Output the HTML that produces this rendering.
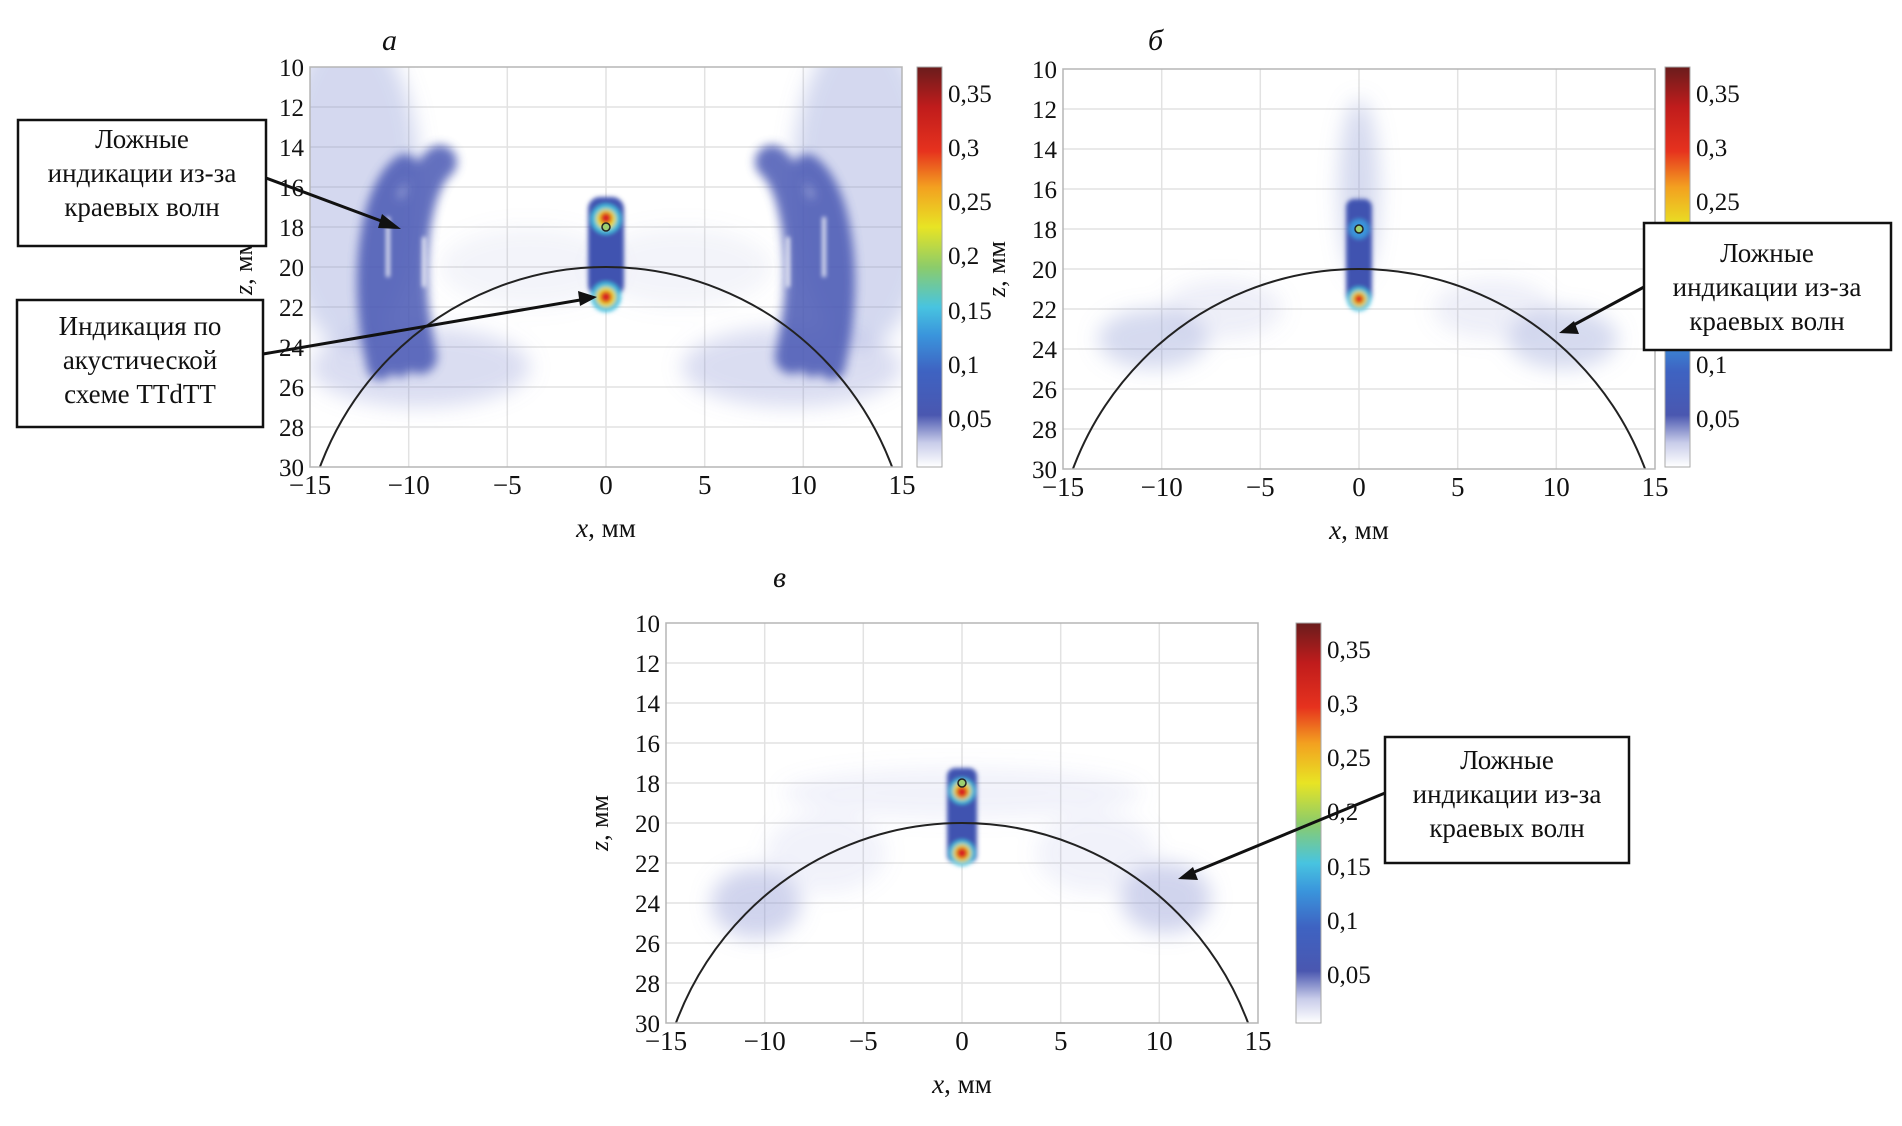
<!DOCTYPE html>
<html><head><meta charset="utf-8"><style>
html,body{margin:0;padding:0;background:#fff;width:1902px;height:1126px;overflow:hidden}
svg{display:block;position:absolute;left:0;top:0;overflow:hidden}
text{font-family:"Liberation Serif",serif;fill:#111}
</style></head><body>
<svg width="1902" height="1126" viewBox="0 0 1902 1126" xmlns="http://www.w3.org/2000/svg">
<defs>
<filter id="b1" x="-50%" y="-50%" width="200%" height="200%"><feGaussianBlur stdDeviation="10"/></filter>
<filter id="b2" x="-50%" y="-50%" width="200%" height="200%"><feGaussianBlur stdDeviation="5"/></filter>
<filter id="b3" x="-50%" y="-50%" width="200%" height="200%"><feGaussianBlur stdDeviation="2"/></filter>
<clipPath id="cp"><rect x="0" y="0" width="592" height="400"/></clipPath>
<linearGradient id="cb" x1="0" y1="1" x2="0" y2="0">
<stop offset="0" stop-color="#ffffff"/>
<stop offset="0.06" stop-color="#c9cdea"/>
<stop offset="0.13" stop-color="#4a57b0"/>
<stop offset="0.24" stop-color="#3e63c2"/>
<stop offset="0.33" stop-color="#3a95dc"/>
<stop offset="0.40" stop-color="#48c4e0"/>
<stop offset="0.50" stop-color="#8ccc6a"/>
<stop offset="0.60" stop-color="#e8e424"/>
<stop offset="0.70" stop-color="#f3a020"/>
<stop offset="0.79" stop-color="#e6321e"/>
<stop offset="0.90" stop-color="#c01c1c"/>
<stop offset="1" stop-color="#6a1c1c"/>
</linearGradient>
<g id="grid">
<rect x="0" y="0" width="592" height="400" fill="#fff"/>
<g stroke="#e2e2e2" stroke-width="1.5">
<line x1="98.7" y1="0" x2="98.7" y2="400"/><line x1="197.3" y1="0" x2="197.3" y2="400"/><line x1="296" y1="0" x2="296" y2="400"/><line x1="394.7" y1="0" x2="394.7" y2="400"/><line x1="493.3" y1="0" x2="493.3" y2="400"/>
<line x1="0" y1="40" x2="592" y2="40"/><line x1="0" y1="80" x2="592" y2="80"/><line x1="0" y1="120" x2="592" y2="120"/><line x1="0" y1="160" x2="592" y2="160"/><line x1="0" y1="200" x2="592" y2="200"/><line x1="0" y1="240" x2="592" y2="240"/><line x1="0" y1="280" x2="592" y2="280"/><line x1="0" y1="320" x2="592" y2="320"/><line x1="0" y1="360" x2="592" y2="360"/>
</g>
</g>
<g id="frame">
<rect x="0" y="0" width="592" height="400" fill="none" stroke="#b5b5b5" stroke-width="1.5"/>
<g font-size="25" text-anchor="end">
<text x="-6" y="9">10</text><text x="-6" y="49">12</text><text x="-6" y="89">14</text><text x="-6" y="129">16</text><text x="-6" y="169">18</text><text x="-6" y="209">20</text><text x="-6" y="249">22</text><text x="-6" y="289">24</text><text x="-6" y="329">26</text><text x="-6" y="369">28</text><text x="-6" y="409">30</text>
</g>
<g font-size="27" text-anchor="middle">
<text x="0" y="427">−15</text><text x="98.7" y="427">−10</text><text x="197.3" y="427">−5</text><text x="296" y="427">0</text><text x="394.7" y="427">5</text><text x="493.3" y="427">10</text><text x="592" y="427">15</text>
<text x="296" y="470"><tspan font-style="italic">x</tspan>, мм</text>
</g>
<text transform="translate(-58,200) rotate(-90)" font-size="26" text-anchor="middle"><tspan font-style="italic">z</tspan>, мм</text>
</g>
<g id="arc"><ellipse cx="296" cy="510" rx="306" ry="310" fill="none" stroke="#222" stroke-width="2"/></g>
<g id="cbar">
<rect x="0" y="0" width="25" height="400" fill="url(#cb)" stroke="#aaa" stroke-width="1"/>
<g font-size="25">
<text x="31" y="360">0,05</text><text x="31" y="306">0,1</text><text x="31" y="252">0,15</text><text x="31" y="197">0,2</text><text x="31" y="143">0,25</text><text x="31" y="89">0,3</text><text x="31" y="35">0,35</text>
</g>
</g>
<g id="sideA">
<g filter="url(#b1)" fill="#8590d0">
<ellipse cx="40" cy="120" rx="70" ry="160" opacity="0.35"/>
<ellipse cx="110" cy="300" rx="110" ry="40" opacity="0.3"/>
<ellipse cx="220" cy="200" rx="90" ry="40" opacity="0.1"/>
</g>
<g filter="url(#b2)" fill="none" stroke="#4a59b4" opacity="0.85" stroke-linecap="round">
<path d="M70 300 Q50 210 70 140 Q80 110 95 100" stroke-width="26"/>
<path d="M110 290 Q90 200 110 130 Q118 105 130 95" stroke-width="34"/>
<path d="M90 300 Q70 210 90 140" stroke-width="20"/>
</g>
<g fill="#fff" filter="url(#b3)" opacity="0.8">
<rect x="76" y="150" width="4" height="60"/><rect x="112" y="170" width="4" height="50"/>
</g>
</g>
</defs>

<g transform="translate(310,67)">
<use href="#grid"/>
<g clip-path="url(#cp)">
<use href="#sideA"/>
<use href="#sideA" transform="translate(592,0) scale(-1,1)"/>
<g filter="url(#b3)">
<rect x="278" y="130" width="36" height="100" rx="12" fill="#3f53b0"/>
<circle cx="296" cy="152" r="15" fill="#40c0e0"/><circle cx="296" cy="152" r="10" fill="#f0e020"/><circle cx="296" cy="151" r="6" fill="#d82020"/>
<circle cx="296" cy="230" r="15" fill="#40c0e0"/><circle cx="296" cy="230" r="10" fill="#f0e020"/><circle cx="296" cy="230" r="6" fill="#d82020"/>
</g>
<circle cx="296" cy="160" r="4" fill="#9cd070" stroke="#222" stroke-width="1.5"/>
<use href="#arc"/>
</g>
<use href="#frame"/>
</g>
<g transform="translate(917,67)"><use href="#cbar"/></g>

<g transform="translate(1063,69)">
<use href="#grid"/>
<g clip-path="url(#cp)">
<g filter="url(#b1)" fill="#8a94d2">
<ellipse cx="296" cy="120" rx="20" ry="90" opacity="0.35"/>
<ellipse cx="90" cy="270" rx="55" ry="30" opacity="0.35"/>
<ellipse cx="500" cy="270" rx="55" ry="30" opacity="0.35"/>
<ellipse cx="160" cy="240" rx="60" ry="30" opacity="0.15"/>
<ellipse cx="430" cy="240" rx="60" ry="30" opacity="0.15"/>
</g>
<g filter="url(#b3)">
<rect x="283" y="130" width="26" height="105" rx="8" fill="#3f53b0"/>
<circle cx="296" cy="160" r="10" fill="#3a95dc"/>
<circle cx="296" cy="230" r="12" fill="#40c0e0"/><circle cx="296" cy="230" r="8" fill="#f0e020"/><circle cx="296" cy="230" r="5" fill="#d82020"/>
</g>
<circle cx="296" cy="160" r="4" fill="#9cd070" stroke="#222" stroke-width="1.5"/>
<use href="#arc"/>
</g>
<use href="#frame"/>
</g>
<g transform="translate(1665,67)"><use href="#cbar"/></g>

<g transform="translate(666,623)">
<use href="#grid"/>
<g clip-path="url(#cp)">
<g filter="url(#b1)" fill="#8a94d2">
<ellipse cx="90" cy="280" rx="45" ry="35" opacity="0.4"/>
<ellipse cx="500" cy="275" rx="45" ry="35" opacity="0.4"/>
<ellipse cx="296" cy="170" rx="180" ry="25" opacity="0.12"/>
<ellipse cx="160" cy="230" rx="60" ry="40" opacity="0.12"/>
<ellipse cx="430" cy="230" rx="60" ry="40" opacity="0.12"/>
</g>
<g filter="url(#b3)">
<rect x="281" y="145" width="30" height="95" rx="8" fill="#3f53b0"/>
<circle cx="296" cy="168" r="13" fill="#40c0e0"/><circle cx="296" cy="168" r="9" fill="#f0e020"/><circle cx="296" cy="169" r="6" fill="#d82020"/>
<circle cx="296" cy="230" r="13" fill="#40c0e0"/><circle cx="296" cy="230" r="9" fill="#f0e020"/><circle cx="296" cy="230" r="6" fill="#d82020"/>
</g>
<circle cx="296" cy="160" r="4" fill="#9cd070" stroke="#222" stroke-width="1.5"/>
<use href="#arc"/>
</g>
<use href="#frame"/>
</g>
<g transform="translate(1296,623)"><use href="#cbar"/></g>

<g font-size="30" font-style="italic">
<text x="382" y="50">а</text><text x="1148" y="50">б</text><text x="773" y="587">в</text>
</g>

<g fill="#fff" stroke="#111" stroke-width="2.5">
<rect x="18" y="120" width="248" height="126"/>
<rect x="17" y="300" width="246" height="127"/>
<rect x="1644" y="223" width="247" height="127"/>
<rect x="1385" y="737" width="244" height="126"/>
</g>
<g font-size="27" text-anchor="middle">
<text x="142" y="148">Ложные</text><text x="142" y="182">индикации из-за</text><text x="142" y="216">краевых волн</text>
<text x="140" y="335">Индикация по</text><text x="140" y="369">акустической</text><text x="140" y="403">схеме TTdTT</text>
<text x="1767" y="262">Ложные</text><text x="1767" y="296">индикации из-за</text><text x="1767" y="330">краевых волн</text>
<text x="1507" y="769">Ложные</text><text x="1507" y="803">индикации из-за</text><text x="1507" y="837">краевых волн</text>
</g>
<g stroke="#111" stroke-width="3" fill="#111">
<line x1="266" y1="178" x2="392" y2="225"/><polygon points="401,229 382,214 378,228" stroke="none"/>
<line x1="263" y1="354" x2="586" y2="299"/><polygon points="597,297 578,291 580,306" stroke="none"/>
<line x1="1644" y1="287" x2="1568" y2="328"/><polygon points="1559,333 1574,321 1579,334" stroke="none"/>
<line x1="1385" y1="793" x2="1187" y2="875"/><polygon points="1178,879 1193,867 1198,880" stroke="none"/>
</g>
</svg>
</body></html>
